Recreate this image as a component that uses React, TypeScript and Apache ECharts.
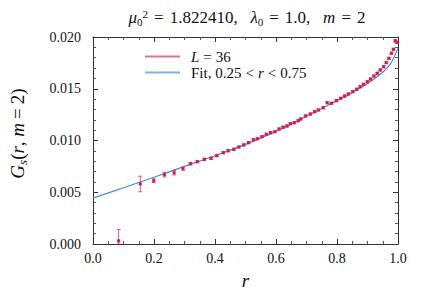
import React, { useEffect, useRef } from "react";
import * as echarts from "echarts";

const R = [0.084, 0.155, 0.199, 0.234, 0.266, 0.295, 0.3195, 0.342, 0.365, 0.387, 0.406, 0.427, 0.443, 0.462, 0.478, 0.494, 0.51, 0.526, 0.539, 0.554, 0.568, 0.582, 0.596, 0.61, 0.623, 0.636, 0.647, 0.66, 0.673, 0.681, 0.697, 0.7125, 0.7265, 0.739, 0.755, 0.768, 0.782, 0.798, 0.812, 0.825, 0.8375, 0.8515, 0.8645, 0.876, 0.887, 0.8995, 0.91, 0.921, 0.932, 0.942, 0.953, 0.9615, 0.97, 0.9785, 0.985, 0.991, 0.996];
const G = [0.0003, 0.0058, 0.00612, 0.0067, 0.00689, 0.00728, 0.00776, 0.00795, 0.00818, 0.00828, 0.00853, 0.00882, 0.00901, 0.00915, 0.00937, 0.00957, 0.00979, 0.01008, 0.01017, 0.01037, 0.0106, 0.01075, 0.01085, 0.01111, 0.01128, 0.0114, 0.01162, 0.01172, 0.01191, 0.01208, 0.01237, 0.01256, 0.01278, 0.01295, 0.01317, 0.01365, 0.0136, 0.01385, 0.01408, 0.0143, 0.0145, 0.01472, 0.01495, 0.0152, 0.01543, 0.01568, 0.01594, 0.01623, 0.01649, 0.01681, 0.01713, 0.01752, 0.01794, 0.01843, 0.01881, 0.01964, 0.01949];
const ERR = [0.0011, 0.00075, 0.00018, 0.00022, 0.00022, 0.00015, 0.00012, 0.0001, 0.0001, 0.0001, 0.0001, 0.0001, 0.0001, 0.0001, 0.0001, 0.0001, 0.0001, 0.0001, 0.0001, 0.0001, 0.0001, 0.0001, 0.0001, 0.0001, 0.0001, 0.0001, 0.0001, 0.0001, 0.0001, 0.0001, 0.0001, 0.0001, 0.0001, 0.0001, 0.0001, 0.0001, 0.0001, 0.0001, 0.0001, 0.0001, 0.0001, 0.0001, 0.0001, 0.0001, 0.0001, 0.0001, 0.0001, 0.0001, 0.0001, 0.0001, 0.0001, 0.0001, 0.0001, 0.0001, 0.0001, 0.0001, 0.0001];
const FIT_R = [0, 0.1, 0.2, 0.3, 0.4, 0.5, 0.6, 0.7, 0.8, 0.85, 0.9, 0.95, 0.975, 1.0];
const FIT_G = [0.00443, 0.00543, 0.00645, 0.0075, 0.00853, 0.00963, 0.01088, 0.01235, 0.01385, 0.01462, 0.0155, 0.0166, 0.0174, 0.0189];

const DATA_NAME = "L = 36";
const FIT_NAME = "Fit, 0.25 < r < 0.75";

const SERIF = "'Liberation Serif', 'DejaVu Serif', serif";
const RED = "#d7194b";
const BLUE = "#3d8fdc";
const FRAME = "#333";

function mkLine() {
  return { show: true, onZero: false, lineStyle: { color: FRAME, width: 1 } };
}
function mkTick() {
  return { show: true, inside: true, length: 5, lineStyle: { color: FRAME, width: 1 } };
}
function mkMinor(n: number) {
  return { show: true, splitNumber: n, length: 3, lineStyle: { color: "#555", width: 1 } };
}

export default function App() {
  const ref = useRef<HTMLDivElement>(null);
  useEffect(() => {
    if (!ref.current) return;
    const chart = echarts.init(ref.current, null, { renderer: "svg" });
    const labelStyle = { fontFamily: SERIF, fontSize: 14, color: "#111" };
    const base = { fontFamily: SERIF, color: "#111", fontWeight: "normal" };
    const rich = {
      i: { ...base, fontStyle: "italic", fontSize: 19 },
      n: { ...base, fontSize: 19 },
      eq: { ...base, fontSize: 19, padding: [0, 4, 0, 4] },
      s: { ...base, fontStyle: "italic", fontSize: 13, padding: [10, 0, 0, 0] },
    };
    const tRich = {
      i: { ...base, fontStyle: "italic", fontSize: 17 },
      n: { ...base, fontSize: 17 },
      eq: { ...base, fontSize: 17, padding: [0, 6, 0, 6] },
      sub: { ...base, fontSize: 11, padding: [8, 0, 0, 0] },
      sup: { ...base, fontSize: 11, padding: [0, 0, 8, 0] },
    };
    const lRich = {
      i: { ...base, fontStyle: "italic", fontSize: 15, lineHeight: 16 },
      n: { ...base, fontSize: 15, lineHeight: 16 },
      eq: { ...base, fontSize: 15, lineHeight: 16, padding: [0, 4, 0, 4] },
    };
    chart.setOption({
      animation: false,
      backgroundColor: "#fff",
      title: {
        text: "{i|μ}{sub|0}{sup|2}{eq|=}{n|1.822410,   }{i|λ}{sub|0}{eq|=}{n|1.0,   }{i|m}{eq|=}{n|2}",
        left: 242,
        top: 3,
        textAlign: "center",
        textStyle: { rich: tRich, fontFamily: SERIF, fontSize: 17, fontWeight: "normal" },
      },
      legend: {
        data: [DATA_NAME, FIT_NAME],
        orient: "vertical",
        left: 140,
        top: 44,
        icon: "rect",
        itemWidth: 35,
        itemHeight: 2,
        itemGap: 1,
        formatter: (name: string) =>
          name === DATA_NAME ? "{i|L}{eq|=}{n|36}" : "{n|Fit, 0.25}{eq|<}{i|r}{eq|<}{n|0.75}",
        textStyle: { rich: lRich, fontFamily: SERIF, fontSize: 15, padding: [0, 0, 0, 6] },
      },
      grid: { left: 86, right: 24, top: 37, bottom: 51 },
      xAxis: [
        {
          type: "value",
          min: 0,
          max: 1,
          interval: 0.2,
          position: "bottom",
          axisLine: mkLine(),
          axisTick: mkTick(),
          minorTick: mkMinor(4),
          splitLine: { show: false },
          axisLabel: { ...labelStyle, margin: 7, formatter: (v: number) => v.toFixed(1) },
          name: "{i|r}",
          nameLocation: "middle",
          nameGap: 27,
          nameTextStyle: { rich },
        },
        {
          type: "value",
          min: 0,
          max: 1,
          interval: 0.2,
          position: "top",
          axisLine: mkLine(),
          axisTick: mkTick(),
          minorTick: mkMinor(4),
          splitLine: { show: false },
          axisLabel: { show: false },
        },
      ],
      yAxis: [
        {
          type: "value",
          min: 0,
          max: 0.02,
          interval: 0.005,
          position: "left",
          axisLine: mkLine(),
          axisTick: mkTick(),
          minorTick: mkMinor(5),
          splitLine: { show: false },
          axisLabel: { ...labelStyle, margin: 12, formatter: (v: number) => v.toFixed(3) },
          name: "{i|G}{s|s}{n|(}{i|r}{n|, }{i|m}{eq|=}{n|2)}",
          nameLocation: "middle",
          nameRotate: 90,
          nameGap: 64,
          nameTextStyle: { rich, padding: [0, 0, 0, 14] },
        },
        {
          type: "value",
          min: 0,
          max: 0.02,
          interval: 0.005,
          position: "right",
          axisLine: mkLine(),
          axisTick: mkTick(),
          minorTick: mkMinor(5),
          splitLine: { show: false },
          axisLabel: { show: false },
        },
      ],
      series: [
        {
          name: FIT_NAME,
          type: "line",
          data: FIT_R.map((r, i) => [r, FIT_G[i]]),
          smooth: 0.4,
          showSymbol: false,
          itemStyle: { color: "#7fb2e6" },
          lineStyle: { color: BLUE, width: 1.2 },
          z: 2,
        },
        {
          name: DATA_NAME,
          type: "custom",
          data: R.map((r, i) => [r, G[i], ERR[i]]),
          itemStyle: { color: "#e2738f" },
          z: 3,
          renderItem: (params: any, api: any) => {
            const x = api.value(0);
            const y = api.value(1);
            const e = api.value(2);
            const c = api.coord([x, y]);
            const t = api.coord([x, y + e]);
            const b = api.coord([x, Math.max(0, y - e)]);
            const bs = { stroke: "rgba(215,25,75,0.7)", lineWidth: 1 };
            return {
              type: "group",
              children: [
                { type: "line", shape: { x1: c[0], y1: t[1], x2: c[0], y2: b[1] }, style: bs },
                { type: "line", shape: { x1: c[0] - 2, y1: t[1], x2: c[0] + 2, y2: t[1] }, style: bs },
                { type: "line", shape: { x1: c[0] - 2, y1: b[1], x2: c[0] + 2, y2: b[1] }, style: bs },
                { type: "rect", shape: { x: c[0] - 1.5, y: c[1] - 1.5, width: 3, height: 3 }, style: { fill: RED } },
              ],
            };
          },
        },
      ],
    });
    return () => chart.dispose();
  }, []);
  return <div ref={ref} style={{ width: 422, height: 295, position: "fixed", left: 0, top: 0 }} />;
}
